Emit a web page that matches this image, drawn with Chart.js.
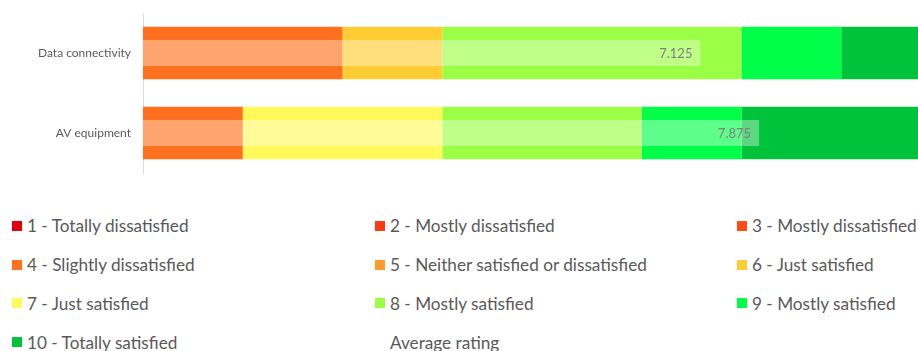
<!DOCTYPE html>
<html>
<head>
<meta charset="utf-8">
<title>Satisfaction ratings</title>
<script src="https://cdn.jsdelivr.net/npm/chart.js@4.4.1/dist/chart.umd.min.js"></script>
<style>
  body { margin: 0; background: #fff; overflow: hidden; font-family: Lato, sans-serif; }
  #wrap { position: relative; width: 918px; height: 351px; overflow: hidden; }
  #ratingChart { position: absolute; left: 0; top: 0; }
  #legend {
    position: absolute; left: 12px; top: 206.5px;
    display: grid; grid-template-columns: 363px 362px 220px; grid-auto-rows: 38.8px;
  }
  .item { display: flex; align-items: center; font-size: 17.2px; color: #595959; white-space: nowrap; }
  .swatch { width: 10px; height: 10px; margin-right: 5px; flex: none; }
</style>
</head>
<body>
<div id="wrap">
  <canvas id="ratingChart" width="941" height="186"></canvas>
  <div id="legend"></div>
</div>
<script>
const categories = ['Data connectivity', 'AV equipment'];

const ratingLabels = [
  '1 - Totally dissatisfied',
  '2 - Mostly dissatisfied',
  '3 - Mostly dissatisfied',
  '4 - Slightly dissatisfied',
  '5 - Neither satisfied or dissatisfied',
  '6 - Just satisfied',
  '7 - Just satisfied',
  '8 - Mostly satisfied',
  '9 - Mostly satisfied',
  '10 - Totally satisfied'
];

const ratingColors = [
  '#e0000f', '#ff3a12', '#ff4c12', '#ff701f', '#ff9a2c',
  '#ffcc33', '#fff95c', '#9bff45', '#00ff48', '#00c23b'
];

// number of respondents giving each rating (1..10)
const dataConnectivity = [0, 0, 0, 2, 0, 1, 0, 3, 1, 1];
const avEquipment      = [0, 0, 0, 1, 0, 0, 2, 2, 1, 2];
const averageRating    = [7.125, 7.875];

const respondents = 8;

const ratingSets = ratingLabels.map((label, i) => ({
  label: label,
  data: [dataConnectivity[i], avEquipment[i]],
  backgroundColor: ratingColors[i],
  stack: 'ratings',
  xAxisID: 'x',
  barPercentage: 0.656
}));

const averageSet = {
  label: 'Average rating',
  data: averageRating,
  backgroundColor: 'rgba(255,255,255,0.36)',
  xAxisID: 'x2',
  barPercentage: 0.325,
  order: -1
};

// value text at the inner end of each average bar
const avgLabels = {
  id: 'avgLabels',
  afterDatasetsDraw(chart) {
    const idx = chart.data.datasets.indexOf(averageSet);
    const meta = chart.getDatasetMeta(idx);
    const ctx = chart.ctx;
    ctx.save();
    ctx.font = '13px Lato';
    ctx.fillStyle = '#7f7f7f';
    ctx.textAlign = 'right';
    ctx.textBaseline = 'middle';
    meta.data.forEach((bar, i) => {
      ctx.fillText(String(averageRating[i]), bar.x - 8, bar.y + 1);
    });
    ctx.restore();
  }
};

const chart = new Chart(document.getElementById('ratingChart'), {
  type: 'bar',
  data: {
    labels: categories,
    datasets: [...ratingSets, averageSet]
  },
  options: {
    indexAxis: 'y',
    responsive: false,
    animation: false,
    datasets: { bar: { grouped: false, categoryPercentage: 1 } },
    layout: { padding: { top: 13, bottom: 13, left: 0, right: 0 } },
    plugins: { legend: { display: false }, tooltip: { enabled: false } },
    scales: {
      x: { stacked: true, min: 0, max: respondents, display: false },
      x2: { min: 0, max: 10.2, display: false },
      y: {
        stacked: true,
        grid: { display: false },
        border: { color: '#d9d9d9' },
        ticks: { color: '#595959', font: { family: 'Lato', size: 12 }, padding: 4 },
        afterFit(scale) { scale.width = 143; }
      }
    }
  },
  plugins: [avgLabels]
});

// legend laid out in three columns under the plot
const legendBox = document.getElementById('legend');
chart.data.datasets.forEach(ds => {
  const item = document.createElement('div');
  item.className = 'item';
  const sw = document.createElement('span');
  sw.className = 'swatch';
  sw.style.background = ds === averageSet ? 'transparent' : ds.backgroundColor;
  item.appendChild(sw);
  item.appendChild(document.createTextNode(ds.label));
  legendBox.appendChild(item);
});
</script>
</body>
</html>
